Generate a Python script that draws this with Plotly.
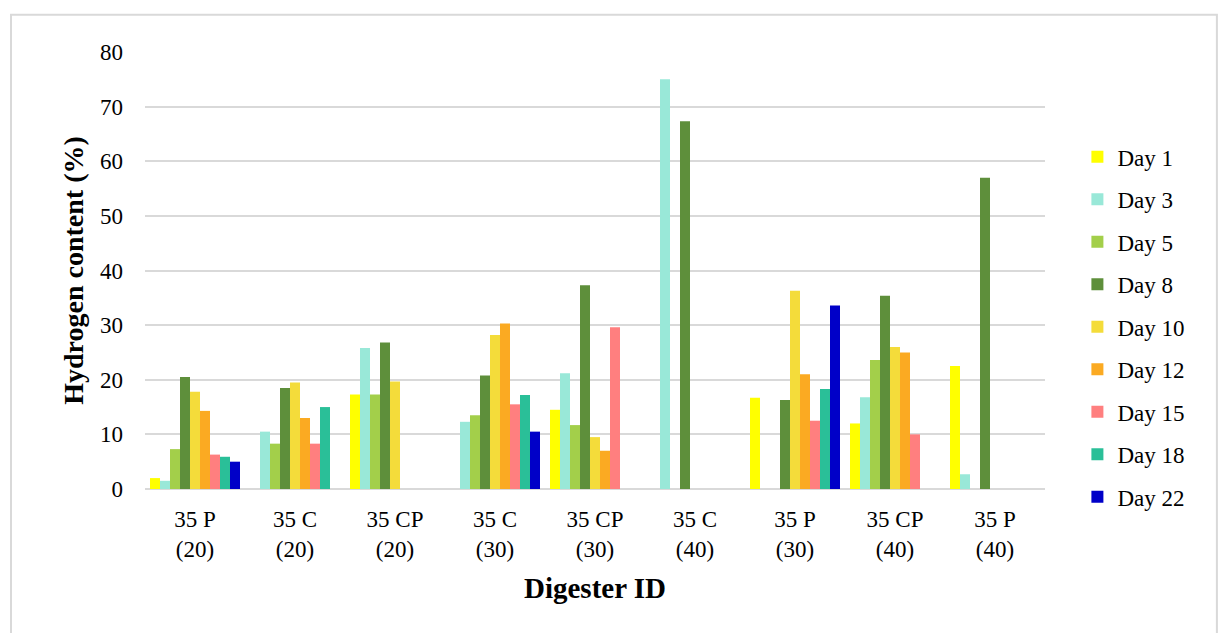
import plotly.graph_objects as go

categories = ["35 P<br>(20)", "35 C<br>(20)", "35 CP<br>(20)", "35 C<br>(30)", "35 CP<br>(30)",
              "35 C<br>(40)", "35 P<br>(30)", "35 CP<br>(40)", "35 P<br>(40)"]

day1  = [2.0, None, 17.3, None, 14.5, None, 16.7, 12.0, 22.5]
day3  = [1.5, 10.5, 25.8, 12.3, 21.2, 75.0, None, 16.8, 2.7]
day5  = [7.3, 8.3, 17.3, 13.5, 11.7, None, None, 23.6, None]
day8  = [20.5, 18.5, 26.8, 20.8, 37.3, 67.3, 16.3, 35.4, 57.0]
day10 = [17.8, 19.5, 19.7, 28.2, 9.5, None, 36.3, 26.0, None]
day12 = [14.3, 13.0, None, 30.3, 7.0, None, 21.0, 25.0, None]
day15 = [6.3, 8.3, None, 15.5, 29.6, None, 12.5, 10.0, None]
day18 = [5.9, 15.0, None, 17.2, None, None, 18.3, None, None]
day22 = [5.0, None, None, 10.5, None, None, 33.6, None, None]

series_names = ["Day 1", "Day 3", "Day 5", "Day 8", "Day 10", "Day 12", "Day 15", "Day 18", "Day 22"]
series_values = [day1, day3, day5, day8, day10, day12, day15, day18, day22]
colors = ["#FFFF00", "#99E8D8", "#A3CF4A", "#5E8F3B", "#F4DC3A", "#FBAA22", "#FF7F7F", "#2ABF98", "#0000C8"]

FONT = "Liberation Serif, Times New Roman, serif"

fig = go.Figure()
for name, vals, col in zip(series_names, series_values, colors):
    fig.add_trace(go.Bar(
        x=categories, y=vals, name=name, legendgroup=name,
        marker=dict(color=col, line=dict(width=0)),
    ))

fig.update_layout(
    width=1219, height=633,
    margin=dict(l=145, r=174, t=52, b=144),
    paper_bgcolor="white", plot_bgcolor="white",
    barmode="group", bargap=0.1, bargroupgap=0.0,
    font=dict(family=FONT, size=23, color="black"),
    xaxis=dict(
        title=dict(text="<b>Digester ID</b>", font=dict(size=29), standoff=16),
        showgrid=False, showline=False, ticks="", tickfont=dict(size=23),
        ticklabelstandoff=14,
    ),
    yaxis=dict(
        title=dict(text="<b>Hydrogen content (%)</b>", font=dict(size=28), standoff=8),
        range=[0, 80], dtick=10, showgrid=True, gridcolor="#d9d9d9", gridwidth=2,
        zeroline=True, zerolinecolor="#d9d9d9", zerolinewidth=2,
        showline=False, ticks="", ticklabelstandoff=21, tickfont=dict(size=23),
    ),
    legend=dict(
        x=1.036, y=0.371, xanchor="left", yanchor="middle",
        font=dict(size=23), tracegroupgap=9.6, bgcolor="rgba(0,0,0,0)",
    ),
    showlegend=True,
)

fig.add_shape(type="rect", xref="paper", yref="paper",
              x0=-0.1489, x1=1.191, y0=-0.36, y1=1.085,
              line=dict(color="#d9d9d9", width=2), fillcolor="rgba(0,0,0,0)", layer="below")

fig.write_html("out.html")
